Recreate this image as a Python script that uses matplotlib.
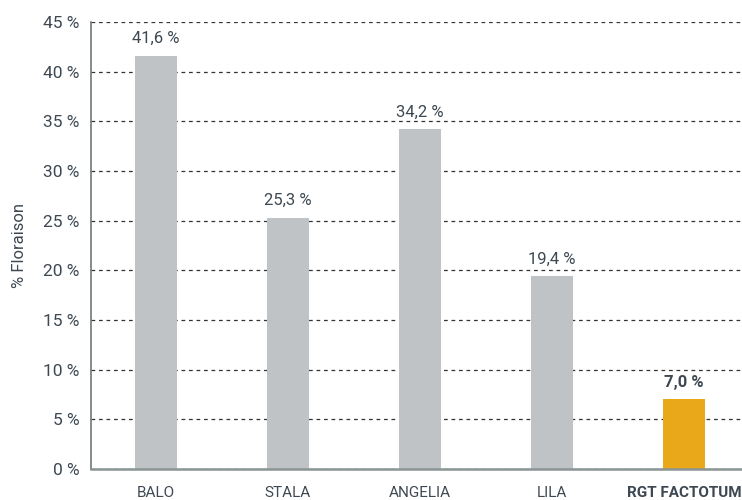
import matplotlib
matplotlib.use('Agg')
import matplotlib.pyplot as plt

plt.rcParams['font.family'] = ['Roboto', 'DejaVu Sans']

varietes = ['BALO', 'STALA', 'ANGELIA', 'LILA', 'RGT FACTOTUM']
floraison = [41.6, 25.3, 34.2, 19.4, 7.0]
couleurs = ['#bfc3c6', '#bfc3c6', '#bfc3c6', '#bfc3c6', '#e8a81a']
texte = '#3d4852'

fig = plt.figure(figsize=(7.42, 5), dpi=100)
ax = fig.add_axes([0.1226, 0.062, 0.8774, 0.894])

x = range(len(varietes))
ax.bar(x, floraison, width=0.32, color=couleurs, zorder=2)

# étiquettes de valeur
for i, v in enumerate(floraison):
    lab = f'{v:.1f} %'.replace('.', ',')
    gras = i == len(floraison) - 1
    ax.text(i, v + 1.0, lab, ha='center', va='bottom', fontsize=12,
            color=texte, fontweight='bold' if gras else 'normal')

ax.set_xlim(-0.49, 4.44)
ax.set_ylim(0, 45)
ax.set_yticks(range(0, 46, 5))
ax.set_yticklabels([f'{t} %' for t in range(0, 46, 5)])
ax.set_xticks(list(x))
ax.set_xticklabels(varietes)
ax.get_xticklabels()[-1].set_fontweight('bold')
ax.get_xticklabels()[-1].set_fontsize(10.5)

ax.yaxis.grid(True, linestyle=(0, (3, 3)), color='#333333', linewidth=0.9, zorder=1)
ax.tick_params(axis='y', length=0, labelsize=12.5, labelcolor=texte, pad=8)
ax.tick_params(axis='x', length=0, labelsize=11, labelcolor=texte, pad=12)
for s in ['top', 'right']:
    ax.spines[s].set_visible(False)
ax.spines['left'].set_color('#6f7878')
ax.spines['bottom'].set_color('#8a9494')
ax.spines['bottom'].set_linewidth(1.8)
ax.spines['left'].set_linewidth(1.2)

ax.set_ylabel('% Floraison', fontsize=12, color=texte, labelpad=12)

fig.savefig('out.png', dpi=100)
